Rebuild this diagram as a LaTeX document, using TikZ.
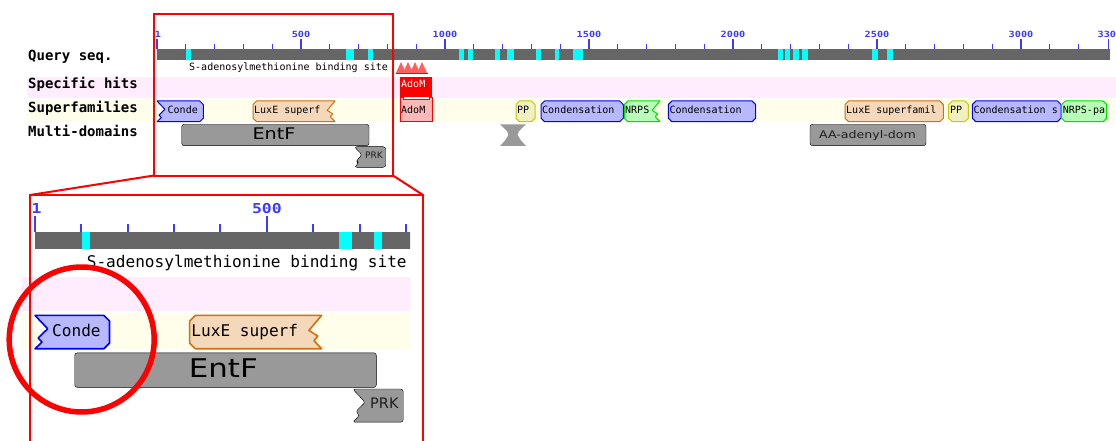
\documentclass[tikz,border=0pt]{standalone}
\usepackage{fontspec}
\newfontfamily\monofont{DejaVu Sans Mono}
\newfontfamily\rulerfont[FakeStretch=1.2]{DejaVu Sans Mono}
\newfontfamily\widesans[FakeStretch=1.2]{DejaVu Sans}
\newfontfamily\plainsans{DejaVu Sans}

\definecolor{bardark}{RGB}{102,102,102}
\definecolor{hitcyan}{RGB}{0,255,255}
\definecolor{rulerblue}{RGB}{60,60,255}
\definecolor{specband}{RGB}{255,236,253}
\definecolor{superband}{RGB}{254,254,234}
\definecolor{cdfill}{RGB}{184,184,255}
\definecolor{cddraw}{RGB}{0,0,255}
\definecolor{lxfill}{RGB}{245,216,186}
\definecolor{lxdraw}{RGB}{208,112,20}
\definecolor{nrfill}{RGB}{184,255,184}
\definecolor{nrdraw}{RGB}{0,224,0}
\definecolor{ppfill}{RGB}{240,240,192}
\definecolor{ppdraw}{RGB}{200,200,0}
\definecolor{admfill}{RGB}{255,184,184}
\definecolor{mdgray}{RGB}{153,153,153}
\definecolor{sitered}{RGB}{255,96,96}
\definecolor{mdtext}{RGB}{30,30,30}

\def\dlw{1pt}
\def\tlw{1.3pt}

\tikzset{
  dlabel/.style={font=\monofont\fontsize{10}{12}\selectfont, anchor=base west, inner sep=0pt},
  rlabel/.style={font=\rulerfont\bfseries\fontsize{8.5}{10}\selectfont, text=rulerblue, anchor=base, inner sep=0pt},
  rowlabel/.style={font=\monofont\bfseries\fontsize{14}{16}\selectfont, anchor=base west, inner sep=0pt},
  tickmark/.style={rulerblue, line width=\tlw},
  cdbox/.style={fill=cdfill, draw=cddraw, line width=\dlw, line join=round},
  lxbox/.style={fill=lxfill, draw=lxdraw, line width=\dlw, line join=round},
  nrbox/.style={fill=nrfill, draw=nrdraw, line width=\dlw, line join=round},
  ppbox/.style={fill=ppfill, draw=ppdraw, line width=\dlw, line join=round},
  mdbox/.style={fill=mdgray, rounded corners=2.5pt},
  zoomframe/.style={red, line width=2pt},
}

% Domain outline: #2 left x, #3 right x, #4 top y, #5 bottom y,
% #6 / #7 left / right edge kind: c = chamfered, j = truncated (torn), s = square
\newcommand\domshape[7][]{%
  \pgfmathsetmacro\dmL{#2}\pgfmathsetmacro\dmR{#3}%
  \pgfmathsetmacro\dmT{#4}\pgfmathsetmacro\dmB{#5}%
  \pgfmathsetmacro\dmH{\dmB-\dmT}%
  \pgfmathsetmacro\dmC{0.17*\dmH}%
  \pgfmathsetmacro\dmJ{0.38*\dmH}%
  \if#6c\edef\dmleft{(\dmL+\dmC,\dmB) -- (\dmL,\dmB-\dmC) -- (\dmL,\dmT+\dmC) -- (\dmL+\dmC,\dmT)}\fi
  \if#6j\edef\dmleft{(\dmL,\dmB) -- (\dmL+0.55*\dmJ,\dmT+0.8*\dmH) -- (\dmL+0.25*\dmJ,\dmT+0.68*\dmH) -- (\dmL+\dmJ,\dmT+0.4*\dmH) -- (\dmL,\dmT)}\fi
  \if#6s\edef\dmleft{(\dmL,\dmB) -- (\dmL,\dmT)}\fi
  \if#7c\edef\dmright{(\dmR-\dmC,\dmT) -- (\dmR,\dmT+\dmC) -- (\dmR,\dmB-\dmC) -- (\dmR-\dmC,\dmB)}\fi
  \if#7j\edef\dmright{(\dmR,\dmT) -- (\dmR-\dmJ,\dmT+0.45*\dmH) -- (\dmR-0.3*\dmJ,\dmT+0.62*\dmH) -- (\dmR-0.6*\dmJ,\dmT+0.76*\dmH) -- (\dmR,\dmB)}\fi
  \if#7s\edef\dmright{(\dmR,\dmT) -- (\dmR,\dmB)}\fi
  \draw[#1] \dmleft -- \dmright -- cycle;
}

% Row bands, query bar and ruler ticks
\newcommand\trackbase{%
  \fill[specband] (27,77) rectangle (1116,98.3);
  \fill[superband] (27,99.3) rectangle (1116,121.7);
  \fill[bardark] (157,49) rectangle (1110,60);
  \foreach \a/\b in {186/191.3, 345.7/354, 367.7/372.7, 459/464, 467.7/472.7,
      495.3/500, 507.3/514, 536/540.7, 554.7/559.3, 573/582.7, 777.7/782.7,
      785/790, 792.7/799, 802.3/808.3, 872.3/878, 887/893}
    \fill[hitcyan] (\a,49) rectangle (\b,60);
  \foreach \k in {1,...,32}
    \draw[tickmark] (157+\k*28.8,44) -- (157+\k*28.8,49);
  \foreach \x in {157,301,445,589,733,877,1021,1108.3}
    \draw[tickmark] (\x,39) -- (\x,49);
}

% N-terminal labels and domains; #1 prefixes the node names
\newcommand\trackhead[1]{%
  \node[rlabel] (#1-r1) at (158,38) {1};
  \node[rlabel] (#1-r500) at (301,38) {500};
  \node[dlabel] (#1-site) at (189,71) {S-adenosylmethionine binding site};
  \domshape[cdbox]{157}{203.3}{101}{121.7}{j}{c}
  \node[dlabel] (#1-conde) at (167.5,114) {Conde};
  \domshape[lxbox]{253}{335}{101}{121.7}{c}{j}
  \node[dlabel] (#1-luxe1) at (254,114) {LuxE superf};
  \domshape[mdbox]{181.7}{369}{124.3}{145.7}{s}{s}
  \node[font=\widesans\fontsize{16}{18}\selectfont, anchor=base, inner sep=0pt] (#1-entf) at (274,139.5) {EntF};
  \domshape[mdbox]{354.3}{385.7}{146.7}{167.3}{j}{s}
  \node[font=\plainsans\fontsize{9}{11}\selectfont, text=mdtext, anchor=base, inner sep=0pt] (#1-prk) at (374,158.8) {PRK};
}

% Remaining labels and domains
\newcommand\tracktail[1]{%
  \node[rlabel] (#1-r1000) at (445,38) {1000};
  \node[rlabel] (#1-r1500) at (589,38) {1500};
  \node[rlabel] (#1-r2000) at (733,38) {2000};
  \node[rlabel] (#1-r2500) at (877,38) {2500};
  \node[rlabel] (#1-r3000) at (1021,38) {3000};
  \node[rlabel, anchor=base west] (#1-rend) at (1097.5,38) {330};
  % binding site markers
  \foreach \p in {401,408,415,422}
    \fill[sitered] (\p-5.5,74) -- (\p,62) -- (\p+5.5,74) -- cycle;
  \fill[red] (396,72.6) rectangle (427.5,74);
  % specific hit
  \fill[red] (400,77.3) rectangle (432.3,96.7);
  \node[dlabel, text=white] (#1-spec-adom) at (401,87.7) {AdoM};
  % superfamilies
  \draw[fill=admfill, draw=red, line width=\dlw] (400,121.7) -- (400,97.5) -- (403,97.5)
    -- (403,100) -- (429.3,100) -- (429.3,97.5) -- (432.3,97.5) -- (432.3,121.7) -- cycle;
  \node[dlabel] (#1-sf-adom) at (401,113.7) {AdoM};
  \domshape[ppbox]{516}{535}{101}{121.7}{c}{c}
  \node[dlabel] (#1-pp1) at (517,114) {PP};
  \domshape[cdbox]{541}{623.3}{101}{121.7}{c}{c}
  \node[dlabel] (#1-cond1) at (542,114) {Condensation};
  \domshape[nrbox]{624.3}{660}{101}{121.7}{c}{j}
  \node[dlabel] (#1-nrps1) at (625,114) {NRPS};
  \domshape[cdbox]{668.3}{755.7}{101}{121.7}{c}{c}
  \node[dlabel] (#1-cond2) at (669.3,114) {Condensation};
  \domshape[lxbox]{845}{943.3}{101}{121.7}{c}{c}
  \node[dlabel] (#1-luxe2) at (846,114) {LuxE superfamil};
  \domshape[ppbox]{948.7}{968.3}{101}{121.7}{c}{c}
  \node[dlabel] (#1-pp2) at (950,114) {PP};
  \domshape[cdbox]{972.3}{1061}{101}{121.7}{c}{c}
  \node[dlabel] (#1-cond3) at (973.3,114) {Condensation s};
  \domshape[nrbox]{1061.7}{1106.7}{101}{121.7}{c}{c}
  \node[dlabel] (#1-nrps2) at (1062.7,114) {NRPS-pa};
  % multi-domains
  \fill[mdgray] (500,124.3) -- (526,124.3) -- (519,131) -- (517.5,135) -- (521,140.5)
    -- (526,146) -- (500,146) -- (505,140.5) -- (508.5,135) -- (507,131) -- cycle;
  \domshape[mdbox]{810}{926}{124.3}{145.7}{s}{s}
  \node[font=\widesans\fontsize{10.5}{12}\selectfont, text=mdtext, anchor=base, inner sep=0pt] (#1-aadom) at (867.5,138.3) {AA-adenyl-dom};
}

\begin{document}
\begin{tikzpicture}[x=1pt, y=-1pt]
  \useasboundingbox (0,0) rectangle (1116,441);
  \fill[white] (0,0) rectangle (1116,441);

  % overview track
  \trackbase
  \trackhead{t}
  \tracktail{t}
  \node[rowlabel] (lbl-query) at (28,61) {Query seq.};
  \node[rowlabel] (lbl-spec) at (28,89) {Specific hits};
  \node[rowlabel] (lbl-super) at (28,113) {Superfamilies};
  \node[rowlabel] (lbl-multi) at (28,137) {Multi-domains};

  % enlarged N-terminal region
  \begin{scope}
    \clip (22,197) rectangle (410,441);
    \begin{scope}[shift={(-217.77,152.81)}, scale=1.61, transform shape]
      \def\dlw{1.6pt}\def\tlw{2pt}
      \trackbase
      \trackhead{z}
    \end{scope}
  \end{scope}

  % zoom frames
  \coordinate (tf-nw) at (154,14);
  \coordinate (tf-sw) at (154,175.5);
  \coordinate (tf-se) at (393,175.5);
  \coordinate (zf-nw) at (30,195);
  \coordinate (zf-ne) at (423,195);
  \coordinate (zf-sw) at (30,446);
  \coordinate (zf-se) at (423,446);
  \draw[zoomframe] (tf-nw) rectangle (tf-se);
  \draw[zoomframe] (tf-sw) -- (zf-nw);
  \draw[zoomframe] (tf-se) -- (zf-ne);
  \draw[zoomframe] (zf-sw) -- (zf-nw) -- (zf-ne) -- (zf-se);

  % highlight ring
  \node[circle, draw=red, line width=5.5pt, minimum size=145pt, inner sep=0pt] (focus-ring) at (81.7,339.5) {};
\end{tikzpicture}
\end{document}
